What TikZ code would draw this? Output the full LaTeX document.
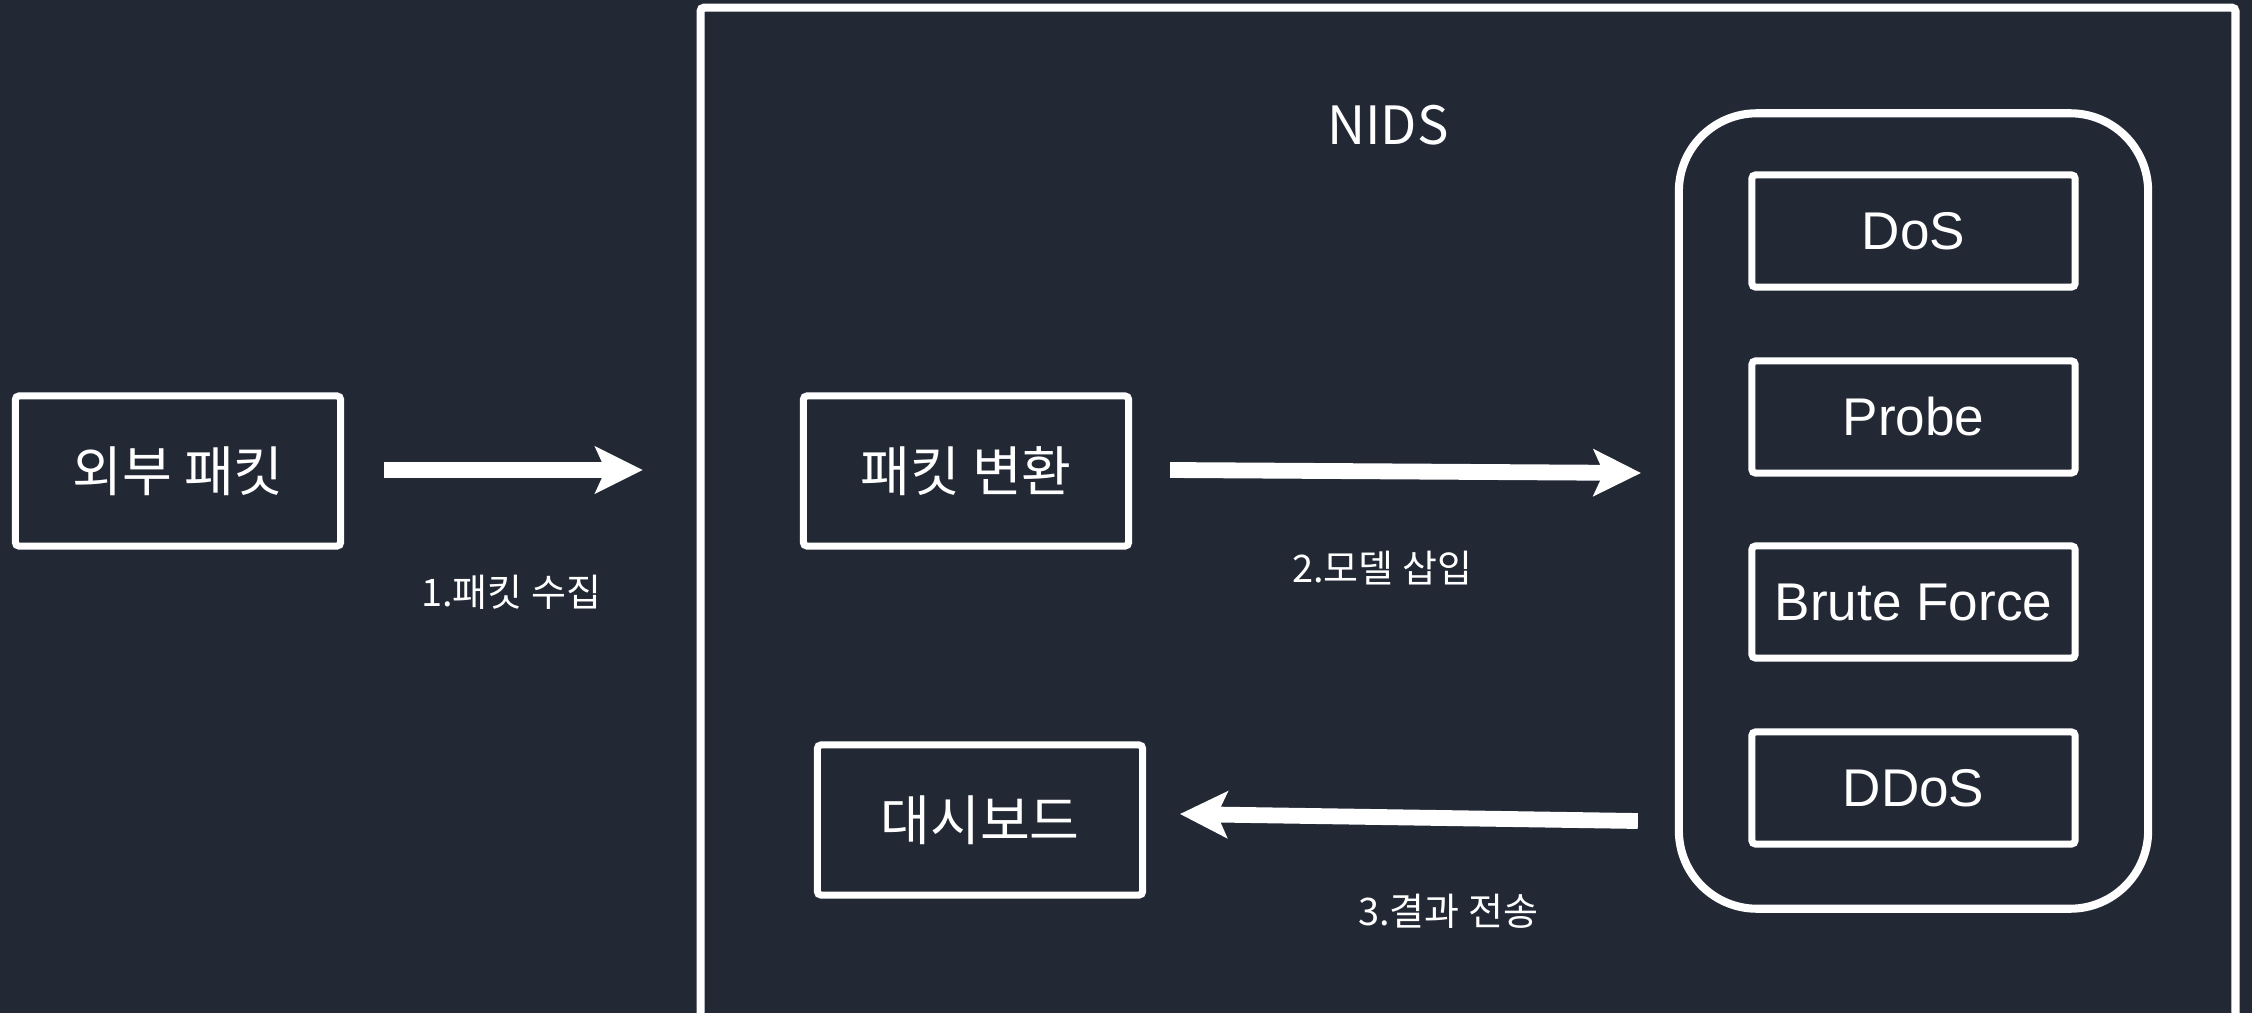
\documentclass[tikz,border=0pt]{standalone}
\usepackage{fontspec}
\setmainfont{Liberation Sans}
\newfontfamily\kr{Noto Sans CJK KR}
\usetikzlibrary{arrows.meta,calc}
\definecolor{bg}{HTML}{222935}
\tikzset{
  box/.style={draw=white, line width=2pt, rounded corners=1pt, text=white, inner sep=0pt},
  krbox/.style={box, font=\kr\fontsize{15.4}{18}\selectfont, minimum width=3.25cm, minimum height=1.5cm},
  atk/.style={box, font=\fontsize{15.1}{18}\selectfont, minimum width=3.23cm, minimum height=1.12cm},
  lbl/.style={text=white, font=\kr\fontsize{10.8}{13}\selectfont, inner sep=0pt},
  bigarrow/.style={draw=white, line width=4.5pt, -{Stealth[length=0.48cm, width=0.48cm, inset=0.11cm, round=false, line width=0pt]}},
}
\begin{document}
\begin{tikzpicture}[x=0.01cm, y=-0.01cm]
\fill[bg] (0,0) rectangle (2252,1013);
\useasboundingbox (0,0) rectangle (2252,1013);

% NIDS frame
\node[draw=white, line width=2.3pt, rounded corners=1pt, minimum width=15.34cm, minimum height=10.24cm, inner sep=0pt] (nids) at (1468,520) {};
\node[text=white, font=\kr\fontsize{15}{18}\selectfont] (nidstitle) at (1388,125) {NIDS};

% left boxes
\node[krbox] (ext) at (178,471) {외부 패킷};
\node[krbox] (conv) at (966,471) {패킷 변환};
\node[krbox] (dash) at (980,820) {대시보드};

% attack container
\node[draw=white, line width=2.3pt, rounded corners=0.78cm, minimum width=4.69cm, minimum height=7.95cm, inner sep=0pt] (cont) at (1913.5,511) {};
\node[atk] (dos) at (1913.5,231) {DoS};
\node[atk] (probe) at (1913.5,417) {Probe};
\node[atk] (brute) at (1913.5,602) {Brute Force};
\node[atk] (ddos) at (1913.5,788) {DDoS};

% connector end points
\coordinate (a1s) at ($(ext.east)+(40,-1)$);
\coordinate (a1e) at ($(nids.west |- ext.east)+(-54,-1)$);
\coordinate (a2s) at ($(conv.east)+(38,-1)$);
\coordinate (a2e) at ($(cont.west |- conv.east)+(-34,2)$);
\coordinate (a3s) at ($(cont.west |- dash.east)+(-37,1)$);
\coordinate (a3e) at ($(dash.east)+(34,-6)$);

\draw[bigarrow] (a1s) -- (a1e);
\draw[bigarrow] (a2s) -- (a2e);
\draw[bigarrow] (a3s) -- (a3e);

% labels
\node[lbl] (l1) at (511,592) {1.패킷 수집};
\node[lbl] (l2) at (1382,568) {2.모델 삽입};
\node[lbl] (l3) at (1448,911) {3.결과 전송};
\end{tikzpicture}
\end{document}
